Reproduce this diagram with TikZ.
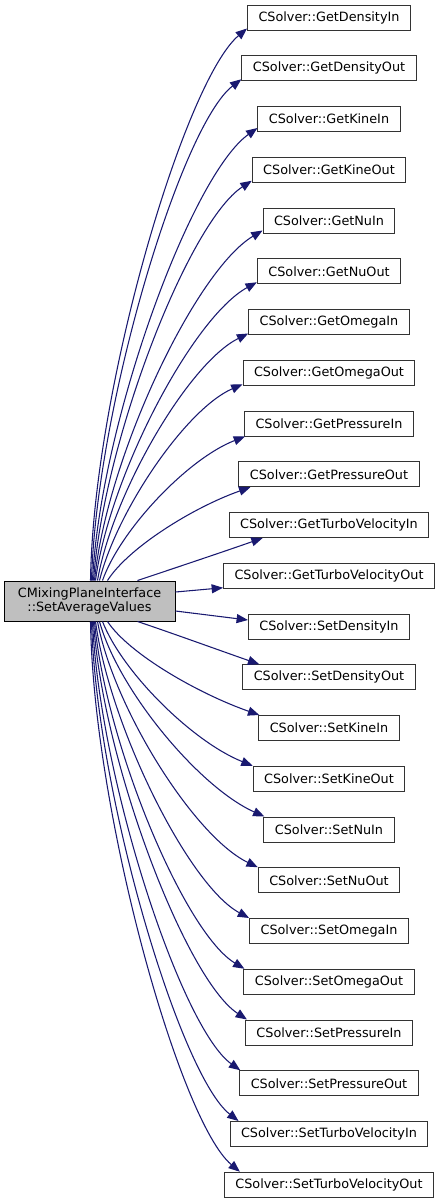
\documentclass[tikz,border=0pt]{standalone}
\usepackage{fontspec}
\setmainfont{DejaVu Sans}
\usetikzlibrary{arrows.meta}
\definecolor{edgeblue}{HTML}{191970}
\definecolor{rootfill}{HTML}{BFBFBF}
\begin{document}
\begin{tikzpicture}[x=0.75pt,y=-0.75pt,
  fn/.style={draw=black!80, line width=0.75pt, fill=white, inner xsep=8.25pt, inner ysep=0pt,
             minimum height=18.75pt, font=\fontsize{9.6}{10.5}\selectfont},
  root/.style={fn, draw=black, fill=rootfill, minimum width=128.25pt, minimum height=30pt, align=center},
  edge/.style={draw=edgeblue, line width=0.8pt, -{Triangle[length=8.5pt,width=6.75pt]}}]
\useasboundingbox (0,0) rectangle (441,1203);

\node[root] (L) at (89.5,601) {CMixingPlaneInterface\\::SetAverageValues};

\node[fn] (t0)  at (329,17.5)    {CSolver::GetDensityIn};
\node[fn] (t1)  at (329,68.25)   {CSolver::GetDensityOut};
\node[fn] (t2)  at (329,119)     {CSolver::GetKineIn};
\node[fn] (t3)  at (329,169.75)  {CSolver::GetKineOut};
\node[fn] (t4)  at (329,220.5)   {CSolver::GetNuIn};
\node[fn] (t5)  at (329,271.25)  {CSolver::GetNuOut};
\node[fn] (t6)  at (329,322)     {CSolver::GetOmegaIn};
\node[fn] (t7)  at (329,372.75)  {CSolver::GetOmegaOut};
\node[fn] (t8)  at (329,423.5)   {CSolver::GetPressureIn};
\node[fn] (t9)  at (329,474.25)  {CSolver::GetPressureOut};
\node[fn] (t10) at (329,525)     {CSolver::GetTurboVelocityIn};
\node[fn] (t11) at (329,575.75)  {CSolver::GetTurboVelocityOut};
\node[fn] (t12) at (329,626.5)   {CSolver::SetDensityIn};
\node[fn] (t13) at (329,677.25)  {CSolver::SetDensityOut};
\node[fn] (t14) at (329,728)     {CSolver::SetKineIn};
\node[fn] (t15) at (329,778.75)  {CSolver::SetKineOut};
\node[fn] (t16) at (329,829.5)   {CSolver::SetNuIn};
\node[fn] (t17) at (329,880.25)  {CSolver::SetNuOut};
\node[fn] (t18) at (329,931)     {CSolver::SetOmegaIn};
\node[fn] (t19) at (329,981.75)  {CSolver::SetOmegaOut};
\node[fn] (t20) at (329,1032.5)  {CSolver::SetPressureIn};
\node[fn] (t21) at (329,1083.25) {CSolver::SetPressureOut};
\node[fn] (t22) at (329,1134)    {CSolver::SetTurboVelocityIn};
\node[fn] (t23) at (329,1184.75) {CSolver::SetTurboVelocityOut};

% upper group
\draw[edge] ([shift={(87,0)}]L.north west) .. controls +(3,-193) and +(-62,52) .. ([shift={(0,-2)}]t0.south west);
\draw[edge] ([shift={(88,0)}]L.north west) .. controls +(5,-175) and +(-60,46) .. ([shift={(0,-2)}]t1.south west);
\draw[edge] ([shift={(89,0)}]L.north west) .. controls +(8,-159) and +(-66,47) .. ([shift={(0,-4)}]t2.south west);
\draw[edge] ([shift={(90,0)}]L.north west) .. controls +(10,-140) and +(-63,41) .. ([shift={(0,-2)}]t3.south west);
\draw[edge] ([shift={(91,0)}]L.north west) .. controls +(12,-123) and +(-67,40) .. ([shift={(0,-3)}]t4.south west);
\draw[edge] ([shift={(92,0)}]L.north west) .. controls +(14,-105) and +(-64,35) .. ([shift={(0,-2)}]t5.south west);
\draw[edge] ([shift={(94,0)}]L.north west) .. controls +(15,-87) and +(-60,30) .. ([shift={(0,-1.5)}]t6.south west);
\draw[edge] ([shift={(96,0)}]L.north west) .. controls +(17,-69) and +(-57,25) .. ([shift={(0,-1.5)}]t7.south west);
\draw[edge] ([shift={(99,0)}]L.north west) .. controls +(18,-51) and +(-57,22) .. ([shift={(1,0)}]t8.south west);
\draw[edge] ([shift={(104,0)}]L.north west) .. controls +(21,-33) and +(-57,20) .. ([shift={(12,0)}]t9.south west);
\draw[edge] ([shift={(134,0)}]L.north west) .. controls +(30,-10) and +(-40,14) .. ([shift={(34,0)}]t10.south west);
% middle
\draw[edge] ([shift={(0,-9)}]L.east) -- ([shift={(0,-1)}]t11.south west);
\draw[edge] ([shift={(0,10)}]L.east) -- ([shift={(0,-6.5)}]t12.west);
\draw[edge] ([shift={(134,0)}]L.south west) .. controls +(30,10) and +(-40,-14) .. ([shift={(17,0)}]t13.north west);
% lower group
\draw[edge] ([shift={(104,0)}]L.south west) .. controls +(22,33) and +(-60,-21) .. ([shift={(1,0)}]t14.north west);
\draw[edge] ([shift={(99,0)}]L.south west) .. controls +(20,51) and +(-60,-24) .. (t15.north west);
\draw[edge] ([shift={(96,0)}]L.south west) .. controls +(19,69) and +(-65,-29) .. ([shift={(1,0)}]t16.north west);
\draw[edge] ([shift={(94,0)}]L.south west) .. controls +(16,86) and +(-64,-31) .. (t17.north west);
\draw[edge] ([shift={(92,0)}]L.south west) .. controls +(14,104) and +(-61,-33) .. (t18.north west);
\draw[edge] ([shift={(91,0)}]L.south west) .. controls +(11,122) and +(-60,-36) .. ([shift={(1,0)}]t19.north west);
\draw[edge] ([shift={(90,0)}]L.south west) .. controls +(9,140) and +(-61,-40) .. ([shift={(2,0)}]t20.north west);
\draw[edge] ([shift={(89,0)}]L.south west) .. controls +(7,158) and +(-59,-42) .. ([shift={(1,0)}]t21.north west);
\draw[edge] ([shift={(88,0)}]L.south west) .. controls +(5,175) and +(-58,-45) .. ([shift={(9,0)}]t22.north west);
\draw[edge] ([shift={(87,0)}]L.south west) .. controls +(3,193) and +(-60,-50) .. ([shift={(16,0)}]t23.north west);
\end{tikzpicture}
\end{document}
